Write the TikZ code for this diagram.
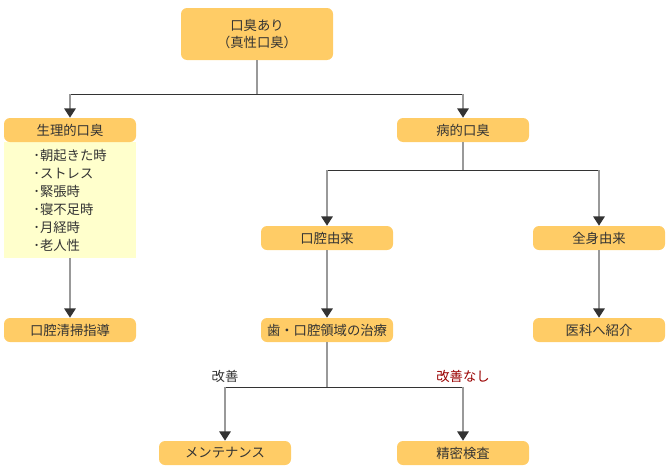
\documentclass[tikz,border=0pt]{standalone}
\usepackage{fontspec}
\setmainfont{Noto Sans CJK JP}
\usetikzlibrary{arrows.meta}
\definecolor{boxfill}{HTML}{FFCC66}
\definecolor{panelfill}{HTML}{FFFFCC}
\definecolor{ink}{HTML}{333333}
\definecolor{stemgray}{HTML}{999999}
\definecolor{nogood}{HTML}{990000}

\begin{document}
\begin{tikzpicture}[x=0.75pt, y=-0.75pt,
  box/.style={fill=boxfill, rounded corners=4.5pt, minimum width=99pt, minimum height=18pt,
    inner sep=0pt, text=ink, font=\fontsize{10}{12.75}\selectfont},
  stem/.style={draw=stemgray, line width=1.5pt},
  drop/.style={stem, -{Triangle[width=8.5pt, length=7pt, color=ink]}},
  bar/.style={draw=ink, line width=0.75pt},
  lbl/.style={text=ink, font=\fontsize{10}{12}\selectfont, inner sep=0pt}]
  \useasboundingbox (0,0) rectangle (670,471);

  % Top
  \node[box, minimum width=114pt, minimum height=39pt, align=center] (root) at (257,34) {口臭あり\\（真性口臭）};

  % Level 1
  \node[fill=panelfill, minimum width=99pt, minimum height=87pt, inner sep=0pt, align=left,
    text=ink, font=\fontsize{10}{13.5}\selectfont] (cause) at (70,200)
    {･朝起きた時\\･ストレス\\･緊張時\\･寝不足時\\･月経時\\･老人性};
  \node[box] (phys) at (70,130) {生理的口臭};
  \node[box] (path) at (463,130) {病的口臭};

  % Level 2
  \node[box] (oral) at (327,238) {口腔由来};
  \node[box] (sys) at (599,238) {全身由来};

  % Level 3
  \node[box] (clean) at (70,330) {口腔清掃指導};
  \node[box] (treat) at (327,330) {歯・口腔領域の治療};
  \node[box] (refer) at (599,330) {医科へ紹介};

  % Level 4
  \node[box] (maint) at (225,453) {メンテナンス};
  \node[box] (exam) at (463,453) {精密検査};

  % Junctions
  \coordinate (j1) at (257,94);
  \coordinate (j2) at (463,170);
  \coordinate (j3) at (327,387);

  \draw[stem] (root) -- (j1);
  \draw[bar] (j1 -| phys) -- (j1 -| path);
  \draw[drop] (j1 -| phys) -- (phys);
  \draw[drop] (j1 -| path) -- (path);

  \draw[stem] (path) -- (j2);
  \draw[bar] (j2 -| oral) -- (j2 -| sys);
  \draw[drop] (j2 -| oral) -- (oral);
  \draw[drop] (j2 -| sys) -- (sys);

  \draw[drop] (cause) -- (clean);
  \draw[drop] (oral) -- (treat);
  \draw[drop] (sys) -- (refer);

  \draw[stem] (treat) -- (j3);
  \draw[bar] (j3 -| maint) -- (j3 -| exam);
  \draw[drop] (j3 -| maint) -- (maint);
  \draw[drop] (j3 -| exam) -- (exam);

  % Labels
  \node[lbl] (ok) at (225,376) {改善};
  \node[lbl, text=nogood] (ng) at (463,376) {改善なし};
\end{tikzpicture}
\end{document}
